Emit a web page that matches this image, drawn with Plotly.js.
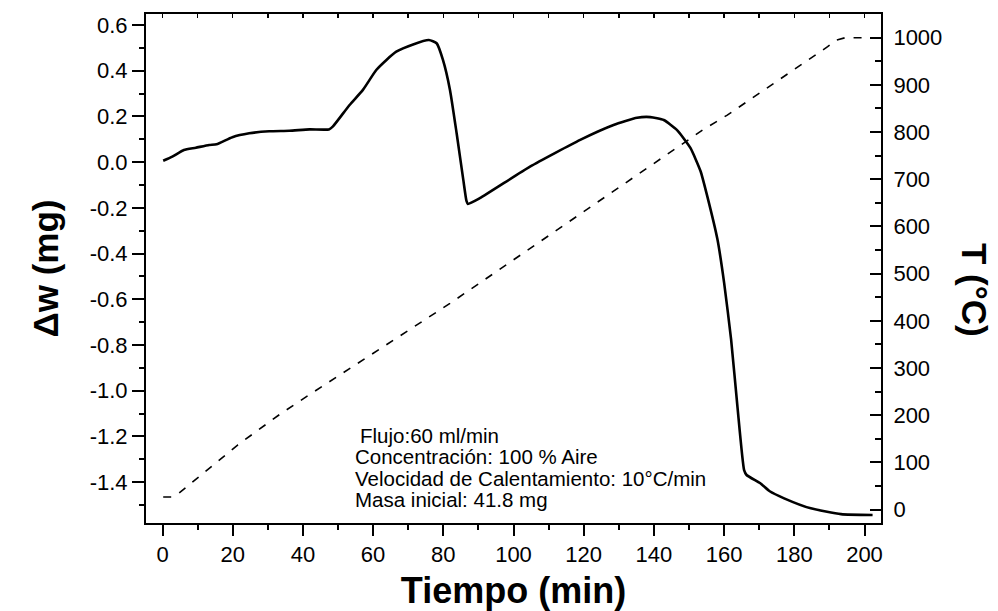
<!DOCTYPE html>
<html>
<head>
<meta charset="utf-8">
<script src="https://cdn.plot.ly/plotly-3.0.1.min.js"></script>
<style>html,body{margin:0;padding:0;background:#fff;}#chart{width:998px;height:611px;}</style>
</head>
<body>
<div id="chart"></div>
<script>
// ---- Data ----
const tgaTime = [0.2, 2.8, 6.1, 9.5, 13.3, 15.4, 19.9, 24.7, 30.4, 36.1, 41.9, 47.4, 48.5, 53.3, 57.1, 60.9, 63.8, 66.6, 71.4, 75.9,
  78.1, 79.9, 81.9, 83.8, 85.7, 86.6, 87.0, 90.4, 104.7, 119.0, 128.5, 135.2, 139.0, 142.8, 146.6, 150.4, 153.3, 155.2, 158.1,
  160.0, 162.0, 163.8, 165.7, 166.4, 170.4, 173.0, 177.1, 184.7, 193.3, 202.3];
const tgaDeltaW = [0.006, 0.024, 0.053, 0.063, 0.075, 0.078, 0.109, 0.126, 0.135, 0.137, 0.143, 0.143, 0.155, 0.250, 0.316, 0.403, 0.447, 0.483, 0.515, 0.534,
  0.520, 0.447, 0.316, 0.126, -0.078, -0.170, -0.183, -0.158, -0.020, 0.097, 0.162, 0.194, 0.197, 0.184, 0.140, 0.062, -0.040, -0.149, -0.338,
  -0.527, -0.777, -1.070, -1.348, -1.369, -1.406, -1.440, -1.471, -1.515, -1.540, -1.544];

const tempTime = [0.2, 2.5, 4.7, 21.4, 33.8, 40.9, 81.9, 122.8, 154.2, 160.9, 184.7, 189.5, 192.0, 194.5, 202.0];
const tempC = [27, 27, 35, 137, 204, 239, 437, 646, 806, 836, 956, 981, 995, 1000, 1000];

const leftTickVals = [0.6, 0.4, 0.2, 0.0, -0.2, -0.4, -0.6, -0.8, -1.0, -1.2, -1.4];
const leftTickText = ['0.6', '0.4', '0.2', '0.0', '-0.2', '-0.4', '-0.6', '-0.8', '-1.0', '-1.2', '-1.4'];
const xTickVals = [0, 20, 40, 60, 80, 100, 120, 140, 160, 180, 200];
const rightTickVals = [0, 100, 200, 300, 400, 500, 600, 700, 800, 900, 1000];

const noteLines = ['Flujo:60 ml/min', 'Concentración: 100 % Aire', 'Velocidad de Calentamiento: 10°C/min', 'Masa inicial: 41.8 mg'];

// ---- Layout geometry ----
const W = 998, H = 611;
const L = 146, R = 881, T = 14, B = 523;
const FONT = 'Arial, "Liberation Sans", sans-serif';
const xRange = [-4.7, 204.7];

const traces = [
  {x: tgaTime, y: tgaDeltaW, type: 'scatter', mode: 'lines', xaxis: 'x', yaxis: 'y',
   line: {color: '#000', width: 2.6, shape: 'spline', smoothing: 0.5}, hoverinfo: 'skip', showlegend: false},
  {x: tempTime, y: tempC, type: 'scatter', mode: 'lines', xaxis: 'x2', yaxis: 'y2',
   line: {color: '#000', width: 1.6, dash: '8px,9px'}, hoverinfo: 'skip', showlegend: false}
];

const px2paperX = p => (p - L) / (R - L);
const px2paperY = p => (B - p) / (B - T);

const noteX = [358, 353, 353, 353];
const noteY = [435, 456.5, 478, 499.5];
const annotations = noteLines.map((t, i) => ({
  text: t, xref: 'paper', yref: 'paper', x: px2paperX(noteX[i]), y: px2paperY(noteY[i]),
  xanchor: 'left', yanchor: 'middle', showarrow: false, font: {family: FONT, size: 20.5, color: '#000'}
}));
annotations.push({
  text: '<b>T (°C)</b>', xref: 'paper', yref: 'paper', x: px2paperX(975), y: px2paperY(290),
  xanchor: 'center', yanchor: 'middle', textangle: 90, showarrow: false,
  font: {family: FONT, size: 35, color: '#000'}
});

const layout = {
  width: W, height: H,
  margin: {l: L, r: W - R, t: T, b: H - B, pad: 0},
  paper_bgcolor: '#fff', plot_bgcolor: '#fff',
  showlegend: false,
  font: {family: FONT, color: '#000'},
  xaxis: {
    range: xRange, tickvals: xTickVals, ticks: 'outside', ticklen: 11, tickwidth: 2, tickcolor: '#000',
    minor: {dtick: 10, tick0: 0, ticks: 'outside', ticklen: 5, tickwidth: 2, tickcolor: '#000', showgrid: false},
    showline: true, linecolor: '#000', linewidth: 2, mirror: true, showgrid: false, zeroline: false,
    tickfont: {family: FONT, size: 22, color: '#000'},
    title: {text: '<b>Tiempo (min)</b>', font: {family: FONT, size: 36, color: '#000'}, standoff: 14},
    automargin: false
  },
  xaxis2: {
    range: xRange, overlaying: 'x', side: 'top', anchor: 'y',
    dtick: 10, tick0: 0, ticks: 'inside', ticklen: 4, tickwidth: 1.5, tickcolor: '#000',
    showticklabels: false, showline: false, showgrid: false, zeroline: false
  },
  yaxis: {
    range: [-1.579, 0.648], tickvals: leftTickVals, ticktext: leftTickText,
    ticks: 'outside', ticklen: 12, tickwidth: 2, tickcolor: '#000',
    minor: {dtick: 0.1, tick0: 0, ticks: 'outside', ticklen: 5, tickwidth: 2, tickcolor: '#000', showgrid: false},
    showline: true, linecolor: '#000', linewidth: 2, showgrid: false, zeroline: false,
    tickfont: {family: FONT, size: 22, color: '#000'},
    title: {text: '<b>Δw (mg)</b>', font: {family: FONT, size: 35, color: '#000'}, standoff: 20},
    automargin: false
  },
  yaxis2: {
    range: [-28.2, 1050.2], overlaying: 'y', side: 'right', anchor: 'x',
    tickvals: rightTickVals, ticks: 'inside', ticklen: 11, tickwidth: 2, tickcolor: '#000',
    minor: {dtick: 50, tick0: 0, ticks: 'inside', ticklen: 6, tickwidth: 2, tickcolor: '#000', showgrid: false},
    showline: true, linecolor: '#000', linewidth: 2, showgrid: false, zeroline: false,
    tickfont: {family: FONT, size: 22, color: '#000'}, ticklabelstandoff: 6,
    automargin: false
  },
  annotations: annotations
};

Plotly.newPlot('chart', traces, layout, {staticPlot: true, displayModeBar: false});
</script>
</body>
</html>
